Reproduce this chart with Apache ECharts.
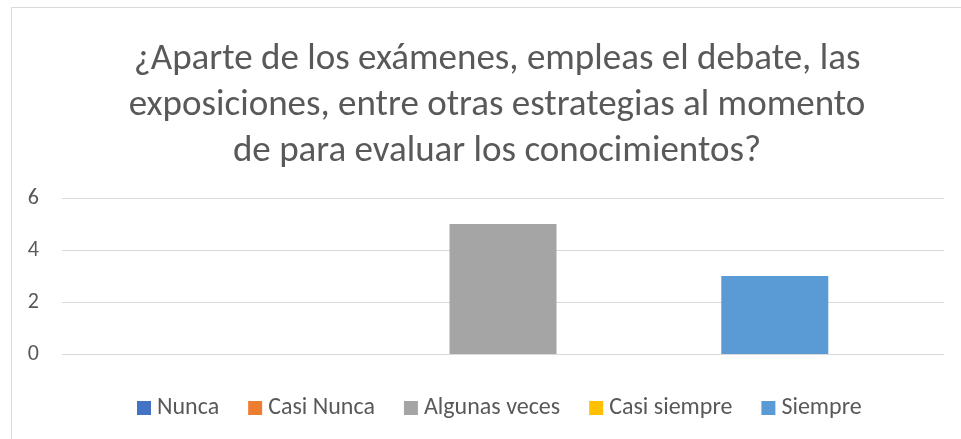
<!DOCTYPE html>
<html>
<head>
<meta charset="utf-8">
<script src="https://cdn.jsdelivr.net/npm/echarts@6/dist/echarts.min.js"></script>
<style>
html, body { margin: 0; padding: 0; background: #fff; }
#chart { width: 961px; height: 439px; }
</style>
</head>
<body>
<div id="chart"></div>
<script>
var titleText = '¿Aparte de los exámenes, empleas el debate, las\nexposiciones, entre otras estrategias al momento\nde para evaluar los conocimientos?';
var categories = [''];
var seriesNames = ['Nunca', 'Casi Nunca', 'Algunas veces', 'Casi siempre', 'Siempre'];
var seriesValues = [0, 0, 5, 0, 3];
var seriesColors = ['#4472C4', '#ED7D31', '#A5A5A5', '#FFC000', '#5B9BD5'];
var yTicks = { min: 0, max: 6, interval: 2 };

var fontFam = 'Carlito, "Liberation Sans Narrow", "Liberation Sans", sans-serif';

var chart = echarts.init(document.getElementById('chart'), null, { renderer: 'canvas' });

var series = [];
for (var i = 0; i < seriesNames.length; i++) {
	series.push({
		name: seriesNames[i],
		type: 'bar',
		barWidth: 107,
		barGap: '27%',
		itemStyle: { color: seriesColors[i] },
		data: [seriesValues[i]]
	});
}

chart.setOption({
	animation: false,
	backgroundColor: '#fff',
	graphic: [{
		type: 'rect',
		shape: { x: 11.5, y: 7.5, width: 1000, height: 1000 },
		style: { fill: null, stroke: '#d9d9d9', lineWidth: 1 },
		silent: true
	}],
	title: {
		text: titleText,
		left: 492,
		textAlign: 'center',
		top: 32,
		textStyle: {
			fontFamily: fontFam,
			fontSize: 37,
			fontWeight: 'normal',
			color: '#595959',
			lineHeight: 46
		}
	},
	legend: {
		data: seriesNames,
		top: 391,
		left: 132,
		itemWidth: 14,
		itemHeight: 14,
		itemGap: 29,
		icon: 'rect',
		textStyle: { fontFamily: fontFam, fontSize: 24, color: '#595959', padding: [0, 0, 0, 1] }
	},
	grid: { left: 62, right: 17, top: 198, bottom: 85 },
	xAxis: {
		type: 'category',
		data: categories,
		axisLine: { show: false },
		axisTick: { show: false },
		axisLabel: { show: false }
	},
	yAxis: {
		type: 'value',
		min: yTicks.min,
		max: yTicks.max,
		interval: yTicks.interval,
		axisLine: { show: false },
		axisTick: { show: false },
		axisLabel: { fontFamily: fontFam, fontSize: 22, color: '#595959', margin: 23 },
		splitLine: { lineStyle: { color: '#d9d9d9', width: 1 } }
	},
	series: series
});
</script>
</body>
</html>
